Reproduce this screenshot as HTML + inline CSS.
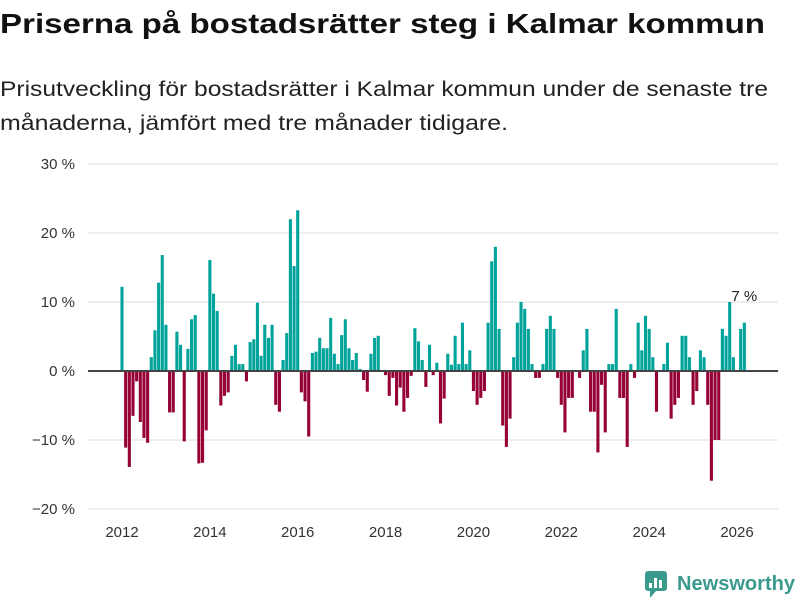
<!DOCTYPE html>
<html><head><meta charset="utf-8"><style>
html,body{margin:0;padding:0;background:#fff;width:800px;height:600px;overflow:hidden}
svg{display:block;font-family:"Liberation Sans",sans-serif}
</style></head><body>
<svg id="chart" width="800" height="600" viewBox="0 0 800 600">
<text x="0" y="33" font-size="28" font-weight="bold" fill="#111" textLength="765" lengthAdjust="spacingAndGlyphs">Priserna på bostadsrätter steg i Kalmar kommun</text>
<text x="0" y="96" font-size="21" fill="#222" textLength="768" lengthAdjust="spacingAndGlyphs">Prisutveckling för bostadsrätter i Kalmar kommun under de senaste tre</text>
<text x="0" y="130" font-size="21" fill="#222" textLength="508" lengthAdjust="spacingAndGlyphs">månaderna, jämfört med tre månader tidigare.</text>
<g id="grid"></g><g id="bars"></g><g id="axes"></g>
<g>
<rect x="645" y="571" width="22" height="20" rx="3" fill="#3a9a8c"/>
<polygon points="650,591 656,591 650,598" fill="#3a9a8c"/>
<rect x="649" y="583" width="3" height="5" fill="#fff"/><rect x="654" y="578" width="3" height="10" fill="#fff"/><rect x="659" y="580" width="3" height="8" fill="#fff"/>
<text x="677" y="590" font-size="20" font-weight="bold" fill="#3a9a8c" textLength="118" lengthAdjust="spacingAndGlyphs">Newsworthy</text>
</g>
</svg>
<script>
const startYear = 2012;
const values = [12.2,-11.1,-13.9,-6.5,-1.5,-7.4,-9.7,-10.4,2.0,5.9,12.8,16.8,6.7,-6.0,-6.0,5.7,3.8,-10.2,3.2,7.5,8.1,-13.4,-13.3,-8.6,16.1,11.2,8.7,-5.0,-3.6,-3.1,2.2,3.8,1.0,1.0,-1.5,4.2,4.6,9.9,2.2,6.7,4.8,6.7,-4.9,-5.9,1.6,5.5,22.0,15.2,23.3,-3.1,-4.4,-9.5,2.6,2.8,4.8,3.3,3.3,7.7,2.5,1.0,5.2,7.5,3.3,1.6,2.6,0.3,-1.3,-3.0,2.5,4.8,5.1,0,-0.6,-3.6,-1.0,-5.0,-2.4,-5.9,-3.9,-0.7,6.2,4.3,1.6,-2.3,3.8,-0.6,1.2,-7.6,-4.0,2.5,0.9,5.1,1.0,7.0,1.0,3.0,-2.9,-4.9,-3.9,-2.9,7.0,15.9,18.0,6.1,-7.9,-11.0,-6.9,2.0,7.0,10.0,9.0,6.1,1.0,-1.0,-1.0,1.0,6.1,8.0,6.1,-1.0,-4.9,-8.9,-3.9,-3.9,0,-1.0,3.0,6.1,-5.9,-5.9,-11.8,-2.0,-8.9,1.0,1.0,9.0,-3.9,-3.9,-11.0,1.0,-1.0,7.0,3.0,8.0,6.1,2.0,-5.9,0,1.0,4.1,-6.9,-4.9,-3.9,5.1,5.1,2.0,-4.9,-2.9,3.0,2.0,-4.9,-15.9,-10.0,-10.0,6.1,5.1,10.0,2.0,0,6.1,7.0];
const yTicks = [30,20,10,0,-10,-20];
const xTicks = [2012,2014,2016,2018,2020,2022,2024,2026];
const lastLabel = "7 %";
const NS="http://www.w3.org/2000/svg";
const x = yr => 122 + (yr - 2012) * 43.93;
const y = v => 371 - v * 6.9;
function mk(tag, attrs, parent){const e=document.createElementNS(NS,tag);for(const k in attrs)e.setAttribute(k,attrs[k]);parent.appendChild(e);return e;}
const grid=document.getElementById('grid'), bars=document.getElementById('bars'), axes=document.getElementById('axes');
yTicks.forEach(t=>{
  if(t!==0){const l=mk('line',{x1:88,x2:778,y1:y(t),y2:y(t),stroke:'#dedede','stroke-width':1},grid);
  
  }
  const tx=mk('text',{x:75,y:y(t)+5,'font-size':15,fill:'#333','text-anchor':'end'},axes);
  tx.textContent=(t<0?'\u221220':String(t)).replace('\u221220','\u2212'+Math.abs(t))+' %';
  
  
});
xTicks.forEach(t=>{
  const tx=mk('text',{x:x(t),y:537,'font-size':15,fill:'#333','text-anchor':'middle'},axes);
  tx.textContent=t;
  
  
});
const step=43.93/12, bw=3.1;
values.forEach((v,i)=>{
  const cx=x(startYear + i/12);
  const r=mk('rect',{x:cx-bw/2,y:Math.min(y(v),y(0)),width:bw,height:Math.abs(y(v)-y(0)),fill:v>=0?'#00a39a':'#960036'},bars);
  
  
});
const zl=mk('line',{x1:88,x2:778,y1:y(0),y2:y(0),stroke:'#444','stroke-width':2},axes);


const li=values.length-1;
const lab=mk('text',{x:x(startYear+li/12),y:y(values[li])-1 - (y(values[li])-y(10)) -0,'font-size':15,fill:'#222','text-anchor':'middle'},axes);
lab.setAttribute('y', y(Math.max(values[li],10))-1);
lab.textContent=lastLabel;


</script>
</body></html>
